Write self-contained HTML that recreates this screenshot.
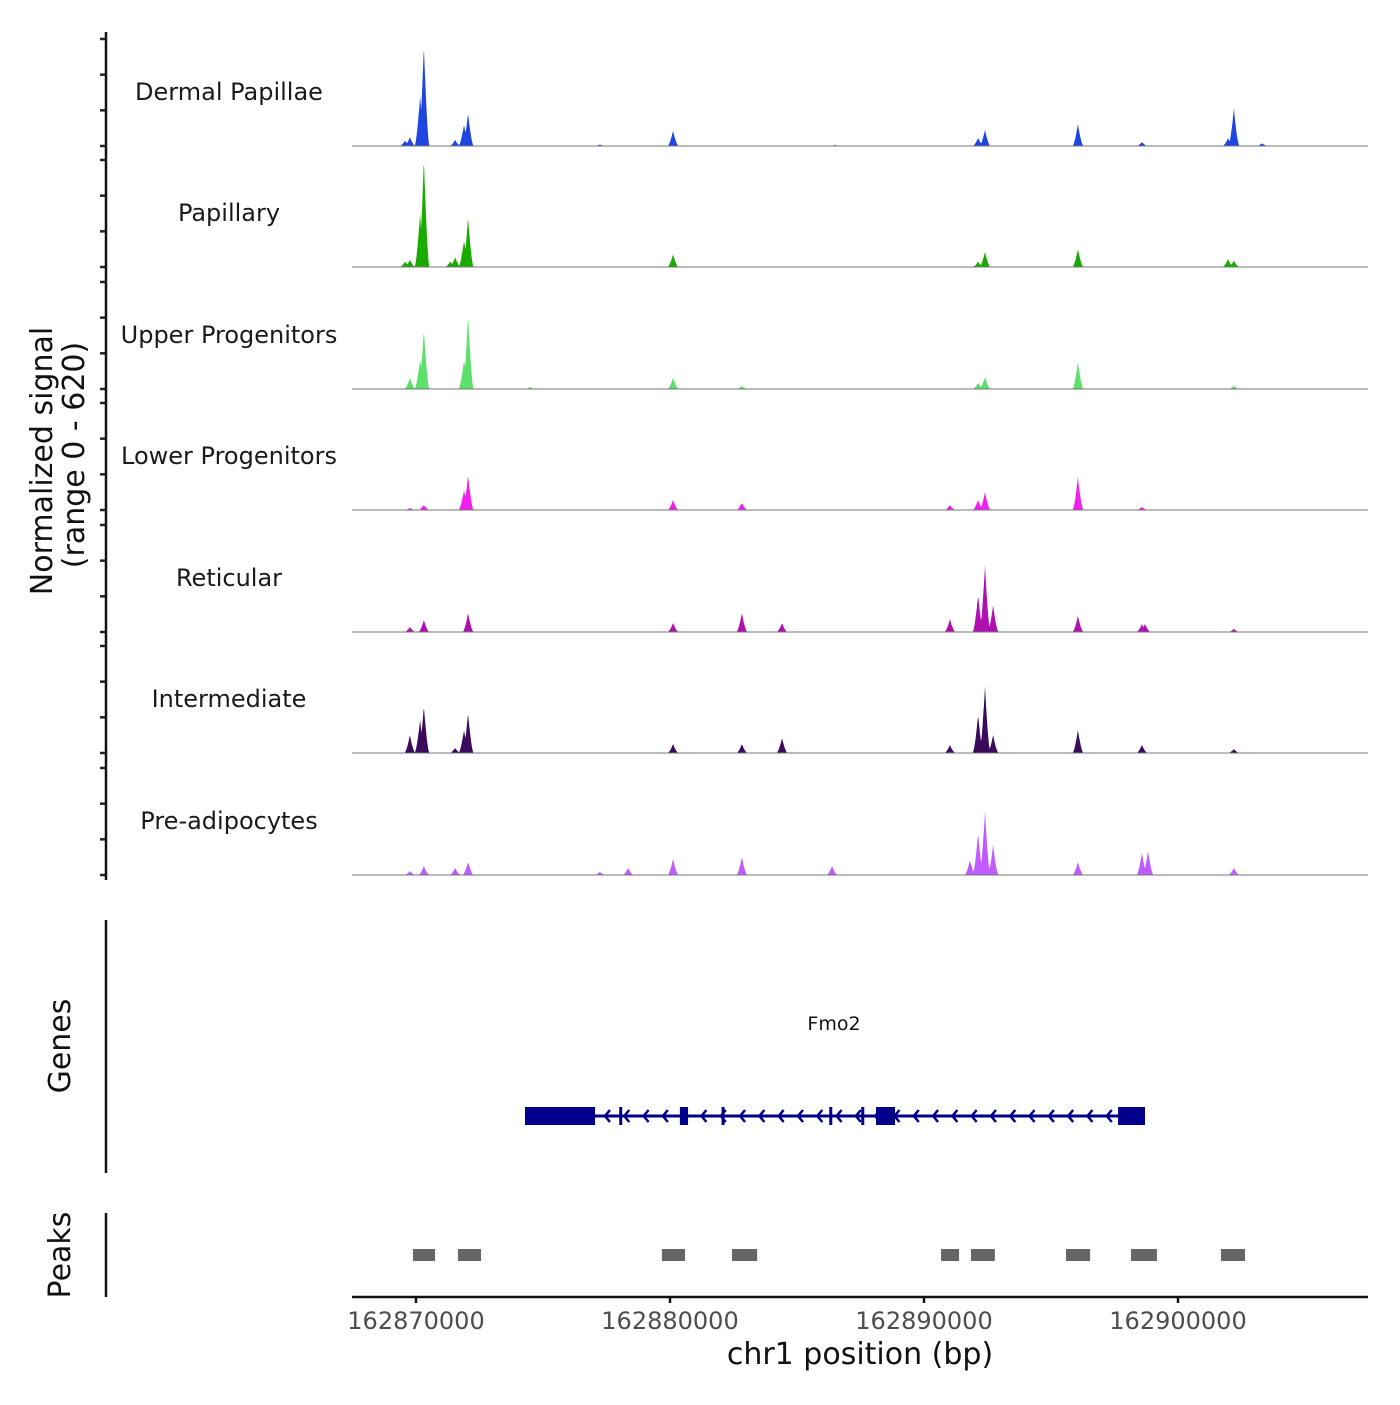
<!DOCTYPE html>
<html><head><meta charset="utf-8"><style>
html,body{margin:0;padding:0;background:#fff;}
svg text{font-family:"DejaVu Sans","Liberation Sans",sans-serif;}
</style></head><body>
<svg id="chart" width="1400" height="1400" viewBox="0 0 1400 1400" xmlns="http://www.w3.org/2000/svg">
<g id="tracks"></g>
<g id="genes"></g>
<g id="peaks"></g>
<g id="axes"></g>
</svg>
<script>
// positions in kb offset from 162860000
const trackNames = ["Dermal Papillae","Papillary","Upper Progenitors","Lower Progenitors","Reticular","Intermediate","Pre-adipocytes"];
const trackColors = ["#1f45e0","#1aab00","#5ce06a","#f21ef0","#b010b0","#3a0b5a","#c05cff"];
const dermalPeaks = [[10.31,566],[10.16,280],[9.76,50],[9.57,30],[12.05,185],[11.89,120],[11.54,34],[20.12,84],[32.13,45],[32.40,90],[36.06,123],[38.58,22],[42.20,213],[41.97,45],[43.31,15],[17.24,8],[26.5,6]];
const papillaryPeaks = [[10.31,612],[10.16,300],[9.76,40],[9.57,30],[11.54,55],[11.35,30],[12.05,280],[11.89,150],[20.12,70],[32.13,30],[32.40,85],[36.06,100],[41.97,45],[42.20,35]];
const upperPeaks = [[10.31,330],[10.16,163],[9.76,62],[12.05,415],[11.89,163],[20.12,62],[22.83,17],[32.13,34],[32.40,67],[36.06,151],[42.20,17],[14.49,11]];
const lowerPeaks = [[10.31,28],[9.76,11],[12.05,196],[11.89,112],[20.12,56],[22.83,39],[31.02,28],[32.13,56],[32.40,101],[36.06,185],[38.58,17]];
const reticularPeaks = [[10.31,67],[9.76,28],[12.05,106],[20.12,50],[22.83,106],[24.41,50],[31.02,73],[32.40,375],[32.13,207],[32.72,151],[36.06,90],[38.58,45],[38.70,45],[42.20,17]];
const intermediatePeaks = [[10.31,263],[10.16,185],[9.76,101],[12.05,224],[11.89,129],[11.54,28],[20.12,50],[22.83,50],[24.41,84],[31.02,45],[32.40,375],[32.13,213],[32.72,101],[36.06,129],[38.58,45],[42.20,22]];
const preadipPeaks = [[10.31,50],[9.76,22],[12.05,73],[11.54,39],[18.35,39],[20.12,90],[22.83,101],[26.38,50],[32.13,235],[32.40,358],[31.81,84],[32.72,168],[36.06,73],[38.58,123],[38.82,134],[42.20,39],[17.24,17]];
const trackPeaks = [dermalPeaks,papillaryPeaks,upperPeaks,lowerPeaks,reticularPeaks,intermediatePeaks,preadipPeaks];
const yTicks = [0,200,400,600];
const xTicks = [162870000,162880000,162890000,162900000];
const geneExons = [[14.29,17.05],[18.0,18.06],[20.39,20.71],[22.03,22.09],[26.27,26.33],[27.53,27.59],[28.11,28.86],[37.64,38.70]];
const geneRange = [14.29,38.70];
const peakRegions = [[9.88,10.75],[11.65,12.56],[19.68,20.59],[22.44,23.43],[30.67,31.38],[31.85,32.79],[35.59,36.54],[38.15,39.17],[41.69,42.64]];

const NS="http://www.w3.org/2000/svg";
const X0=352,X1=1368,KB0=7.48,PXKB=25.4;
function xs(kb){return X0+(kb-KB0)*PXKB;}
function xbp(bp){return xs((bp-162860000)/1000);}
const baselines=[146,267,389,510,632,753,875];
const YMAX=620, TH=110.6;
function ys(b,v){return b-v/YMAX*TH;}
function mk(tag,attrs,parent){const e=document.createElementNS(NS,tag);for(const k in attrs)e.setAttribute(k,attrs[k]);parent.appendChild(e);return e;}
const gT=document.getElementById('tracks'),gG=document.getElementById('genes'),gP=document.getElementById('peaks'),gA=document.getElementById('axes');
const W=0.22;
trackPeaks.forEach((pk,i)=>{
  const b=baselines[i];
  let d='M'+X0+','+b;
  for(let kb=KB0+1.5;kb<=KB0+36.5;kb+=0.02){
    let v=0;pk.forEach(p=>{const t=1-Math.abs(kb-p[0])/W;if(t>0)v=Math.max(v,p[1]*Math.pow(t,1.6));});
    d+=' L'+xs(kb).toFixed(1)+','+ys(b,v).toFixed(1);
  }
  d+=' L'+X1+','+b+' Z';
  const a=mk('path',{d:d,fill:trackColors[i]},gT);
  
  
  const l=mk('line',{x1:X0,x2:X1,y1:b,y2:b,stroke:'#777','stroke-width':1},gT);
  
  
  const t=mk('text',{x:229,y:b-46,'text-anchor':'middle','font-size':24,fill:'#1a1a1a'},gT);
  t.textContent=trackNames[i];
  
  
  yTicks.forEach(v=>{const tk=mk('line',{x1:100,x2:106,y1:ys(b,v),y2:ys(b,v),stroke:'#222','stroke-width':2.5},gA);
    
    });
});
// genes
const GY=1116;
const gl=mk('line',{x1:xs(geneRange[0]),x2:xs(geneRange[1]),y1:GY,y2:GY,stroke:'#00008b','stroke-width':3},gG);


for(let x=xs(geneRange[0])+80;x<xs(geneRange[1])-20;x+=19.3){
  const c=mk('path',{d:`M${x+5},${GY-6} L${x},${GY} L${x+5},${GY+6}`,stroke:'#00008b','stroke-width':2.5,fill:'none'},gG);
  
  
}
geneExons.forEach(e=>{const r=mk('rect',{x:xs(e[0]),y:GY-9,width:Math.max(3,xs(e[1])-xs(e[0])),height:18,fill:'#00008b'},gG);
  
  });
const gn=mk('text',{x:834,y:1030,'text-anchor':'middle','font-size':19,fill:'#111'},gG);
gn.textContent='Fmo2';


peakRegions.forEach(p=>{const r=mk('rect',{x:xs(p[0]),y:1249,width:xs(p[1])-xs(p[0]),height:12,fill:'#666'},gP);
  
  });
// axes
[[32,880],[920,1173],[1213,1297]].forEach(s=>{const l=mk('line',{x1:106,x2:106,y1:s[0],y2:s[1],stroke:'#111','stroke-width':2.5},gA);
  
  });
const xl=mk('line',{x1:X0,x2:X1,y1:1297,y2:1297,stroke:'#111','stroke-width':2.5},gA);


xTicks.forEach(v=>{const x=xbp(v);
  const tk=mk('line',{x1:x,x2:x,y1:1297,y2:1303,stroke:'#111','stroke-width':2.5},gA);
  
  
  const t=mk('text',{x:x,y:1329,'text-anchor':'middle','font-size':24,fill:'#4d4d4d'},gA);
  t.textContent=String(v);
  
  });
function label(txt,x,y,rot,name,size){const t=mk('text',{x:x,y:y,'text-anchor':'middle','font-size':size,fill:'#111',transform:rot?`rotate(-90 ${x} ${y})`:''},gA);
  t.textContent=txt;}
label('chr1 position (bp)',860,1364,false,'x-axis-title',30);
label('Normalized signal',52,461,true,'y-axis-title',30);
label('(range 0 - 620)',84,455,true,'y-axis-range',30);
label('Genes',70,1046,true,'genes-title',30);
label('Peaks',70,1255,true,'peaks-title',30);
</script>
</body></html>
